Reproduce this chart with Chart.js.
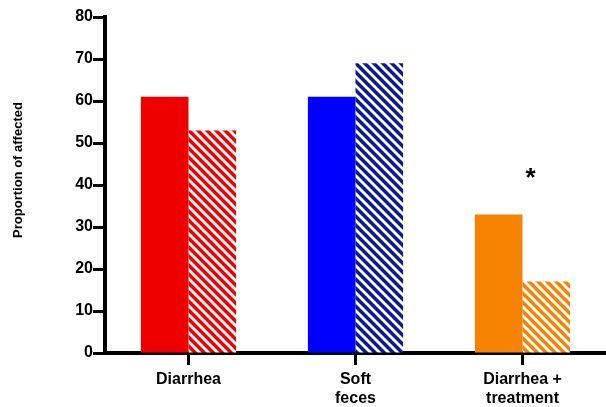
<!DOCTYPE html>
<html>
<head>
<meta charset="utf-8">
<script src="https://cdn.jsdelivr.net/npm/chart.js@4.4.1/dist/chart.umd.min.js"></script>
<style>
html,body{margin:0;padding:0;background:#fff;}
#wrap{width:606px;height:407px;}
</style>
</head>
<body>
<div id="wrap"><canvas id="grafico"></canvas></div>
<script>
var categorie = ["Diarrhea", ["Soft", "feces"], ["Diarrhea +", "treatment"]];
var valoriPieni = [61, 61, 33];
var valoriTratteggiati = [53, 69, 17];
var yTicks = [0, 10, 20, 30, 40, 50, 60, 70, 80];
var significativi = ["", "", "*"];
var titoloY = "Proportion of affected";

var coloriPieni = ["#ee0000", "#0000ff", "#f58200"];
var coloriTratteggio = ["#ee0000", "#0a1a96", "#f58200"];

function tratteggio(colore) {
    var p = 9;
    var c = document.createElement("canvas");
    c.width = p;
    c.height = p;
    var ctx = c.getContext("2d");
    ctx.fillStyle = colore;
    ctx.fillRect(0, 0, p, p);
    ctx.strokeStyle = "#ffffff";
    ctx.lineWidth = 2.8;
    for (var k = -1; k <= 1; k++) {
        ctx.beginPath();
        ctx.moveTo(-1, -1 + k * p);
        ctx.lineTo(p + 1, p + 1 + k * p);
        ctx.stroke();
    }
    return ctx.createPattern(c, "repeat");
}

// asterisco e titolo asse y disegnati a mano
var extra = {
    id: "extra",
    afterDatasetsDraw: function (chart) {
        var ctx = chart.ctx;
        var x = chart.scales.x;
        var y = chart.scales.y;
        ctx.save();
        ctx.fillStyle = "#000";
        ctx.font = "bold 26px 'Liberation Sans', Arial, sans-serif";
        ctx.textAlign = "center";
        ctx.textBaseline = "middle";
        for (var i = 0; i < significativi.length; i++) {
            if (significativi[i] == "") continue;
            var top = Math.max(valoriPieni[i], valoriTratteggiati[i]);
            ctx.fillText(significativi[i], x.getPixelForValue(i) + 8, y.getPixelForValue(top) - 36);
        }
        ctx.translate(18, 170);
        ctx.rotate(-Math.PI / 2);
        ctx.font = "bold 13px 'Liberation Sans', Arial, sans-serif";
        ctx.fillText(titoloY, 0, 0);
        ctx.restore();
    }
};

var fontTick = { family: "'Liberation Sans', Arial, sans-serif", size: 16, weight: "bold" };

new Chart(document.getElementById("grafico"), {
    type: "bar",
    data: {
        labels: categorie,
        datasets: [{
            data: valoriPieni,
            backgroundColor: coloriPieni,
            borderWidth: 0
        }, {
            data: valoriTratteggiati,
            backgroundColor: coloriTratteggio.map(tratteggio),
            borderWidth: 0
        }]
    },
    options: {
        responsive: true,
        maintainAspectRatio: false,
        animation: false,
        layout: { padding: { top: 17, right: 0, left: 0, bottom: 0 } },
        plugins: {
            legend: { display: false },
            tooltip: { enabled: false }
        },
        datasets: {
            bar: { barPercentage: 1, categoryPercentage: 0.57 }
        },
        scales: {
            x: {
                grid: { display: true, drawOnChartArea: false, offset: false, color: "#000", tickLength: 12, tickWidth: 3 },
                border: { display: true, color: "#000", width: 4 },
                ticks: { color: "#000", font: fontTick, padding: 5, maxRotation: 0 },
                afterFit: function (s) { s.height = 54; }
            },
            y: {
                min: 0,
                max: 80,
                afterBuildTicks: function (s) { s.ticks = yTicks.map(function (v) { return { value: v }; }); },
                grid: { display: true, drawOnChartArea: false, color: "#000", tickLength: 12, tickWidth: 3 },
                border: { display: true, color: "#000", width: 4 },
                ticks: { color: "#000", font: fontTick, padding: 0 },
                afterFit: function (s) { s.width = 105; }
            }
        }
    },
    plugins: [extra]
});
</script>
</body>
</html>
